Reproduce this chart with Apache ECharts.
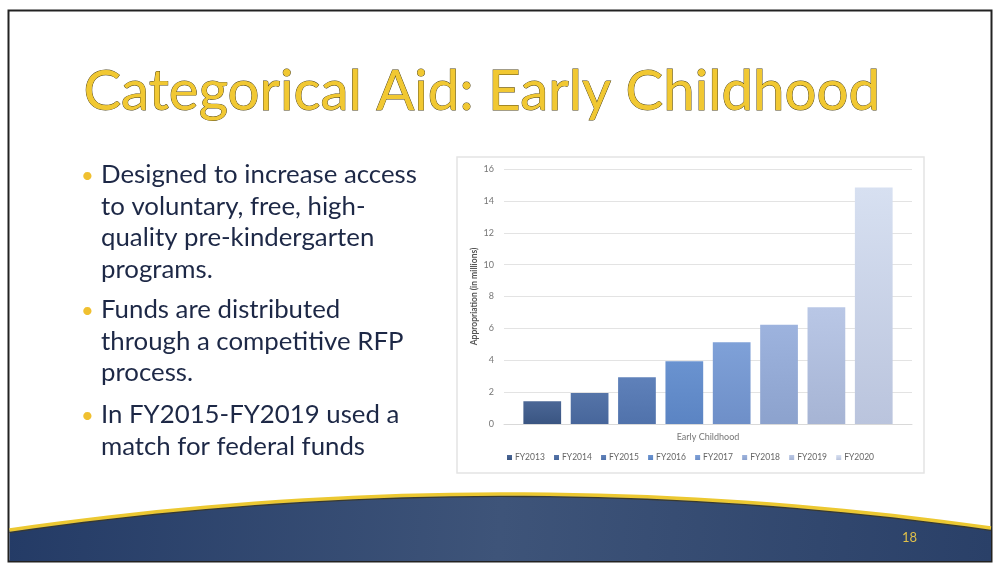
<!DOCTYPE html>
<html>
<head>
<meta charset="utf-8">
<script src="https://cdn.jsdelivr.net/npm/echarts@6/dist/echarts.min.js"></script>
<style>
  html, body { margin: 0; padding: 0; background: #fff; }
  #main { width: 1000px; height: 574px; }
</style>
</head>
<body>
<div id="main"></div>
<script>
// fiscal years (one series each) and appropriations in millions
var years = ['FY2013', 'FY2014', 'FY2015', 'FY2016', 'FY2017', 'FY2018', 'FY2019', 'FY2020']
var values = [1.42, 1.95, 2.93, 3.94, 5.13, 6.22, 7.33, 14.84]
var category = ['Early Childhood']

// bar colours, top -> bottom of the gradient
var topColors = ['#4b6796', '#5574a8', '#5f81ba', '#6a93d0', '#7fa1d8', '#9db3de', '#b9c7e6', '#d7e0f1']
var bottomColors = ['#3a5582', '#47669b', '#5072ab', '#5b84c3', '#6e8fc8', '#8ca2cd', '#a6b4d4', '#bac4dd']

var bullets = [
  ['Designed to increase access', 'to voluntary, free, high-', 'quality pre-kindergarten', 'programs.'],
  ['Funds are distributed', 'through a competitive RFP', 'process.'],
  ['In FY2015-FY2019 used a', 'match for federal funds'],
]
var bulletTops = [159.3, 294.2, 399.2]

var FONT = 'Lato, "Open Sans", sans-serif'

function grad(i) {
  return new echarts.graphic.LinearGradient(0, 0, 0, 1, [
    { offset: 0, color: topColors[i] },
    { offset: 1, color: bottomColors[i] },
  ])
}

// points of the curved footer edge (quadratic curve)
function arcPoints(x0, y0, cx, cy, x1, y1) {
  var pts = []
  for (var k = 0; k <= 40; k++) {
    var t = k / 40
    var x = (1 - t) * (1 - t) * x0 + 2 * (1 - t) * t * cx + t * t * x1
    var y = (1 - t) * (1 - t) * y0 + 2 * (1 - t) * t * cy + t * t * y1
    pts.push([x, y])
  }
  return pts
}

var series = []
for (var i = 0; i < years.length; i++) {
  series.push({
    name: years[i],
    type: 'bar',
    barGap: '25.5%',
    barCategoryGap: '9.5%',
    itemStyle: { color: grad(i) },
    emphasis: { disabled: true },
    data: [values[i]],
  })
}

var edge = arcPoints(9.5, 530, 500, 459, 991, 528)
var footer = edge.concat([[991, 561], [9.5, 561]])

// slide decoration and text
var graphics = [
  // slide frame
  { type: 'rect', z: -20, shape: { x: 8.5, y: 10.5, width: 983, height: 551 },
    style: { fill: '#fff', stroke: '#222', lineWidth: 2 } },
  // chart box
  { type: 'rect', z: -10, shape: { x: 457, y: 157, width: 467, height: 316 },
    style: { fill: '#fff', stroke: '#e4e4e4', lineWidth: 1.5 } },
  // navy footer
  { type: 'polygon', z: -5,
    shape: { points: footer },
    style: {
      fill: new echarts.graphic.LinearGradient(0, 0, 1, 1, [
        { offset: 0, color: '#243b66' },
        { offset: 0.5, color: '#3e5479' },
        { offset: 1, color: '#2a4068' },
      ]),
    } },
  { type: 'polyline', z: -4,
    shape: { points: arcPoints(9.5, 532.5, 500, 461.5, 991, 530.5) },
    style: { fill: null, stroke: '#3b3a2c', lineWidth: 1.2 } },
  { type: 'polyline', z: -3,
    shape: { points: edge },
    style: { fill: null, stroke: '#ecc831', lineWidth: 3.5 } },
  // page number
  { type: 'text', left: 902, top: 531,
    style: { text: '18', fill: '#e0c04a', font: '13px ' + FONT } },
  // title
  { type: 'text', left: 83, top: 63,
    style: { text: 'Categorical Aid: Early Childhood', fill: '#f1c832', stroke: '#4a3f14', lineWidth: 0.9,
      font: '56.4px ' + FONT } },
]

for (var b = 0; b < bullets.length; b++) {
  graphics.push({ type: 'text', left: 81, top: bulletTops[b] + 6,
    style: { text: '•', fill: '#f0c030', font: '22px ' + FONT } })
  graphics.push({ type: 'text', left: 101, top: bulletTops[b],
    style: { text: bullets[b].join('\n'), fill: '#1d2846', font: '25.8px ' + FONT, lineHeight: 31.5 } })
}

var myChart = echarts.init(document.getElementById('main'))
var option = {
  animation: false,
  textStyle: { fontFamily: FONT },
  graphic: graphics,
  grid: { left: 504, right: 88, top: 169, bottom: 150 },
  legend: {
    left: 507,
    top: 453,
    padding: 0,
    itemWidth: 5,
    itemHeight: 5,
    itemGap: 9.2,
    icon: 'rect',
    textStyle: { color: '#666', fontSize: 8.5, padding: [0, 0, 0, -2] },
    data: years,
  },
  xAxis: {
    type: 'category',
    data: category,
    axisTick: { show: false },
    axisLine: { lineStyle: { color: '#d9d9d9' } },
    axisLabel: { color: '#767676', fontSize: 9, margin: 9 },
  },
  yAxis: {
    type: 'value',
    min: 0,
    max: 16,
    interval: 2,
    name: 'Appropriation (in millions)',
    nameLocation: 'middle',
    nameGap: 25,
    nameTextStyle: { color: '#555', fontSize: 8.5, fontWeight: 'bold' },
    axisLine: { show: false },
    axisTick: { show: false },
    axisLabel: { color: '#767676', fontSize: 9, margin: 10 },
    splitLine: { lineStyle: { color: '#e3e3e3' } },
  },
  series: series,
}
myChart.setOption(option)
</script>
</body>
</html>
